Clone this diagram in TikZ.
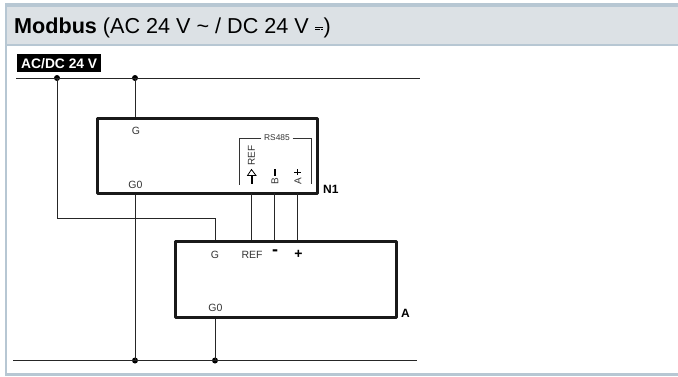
\documentclass[tikz,border=0pt]{standalone}
\usepackage{fontspec}
\setmainfont{Liberation Sans}
\usetikzlibrary{calc,positioning}
\definecolor{framecol}{HTML}{B7C7D3}
\definecolor{headcol}{HTML}{DCE1E5}
% DC symbol
\newcommand{\dcsym}{\begin{tikzpicture}[baseline=0pt,x=1pt,y=1pt]
\path (0,0) -- (8,0);
\draw[line width=0.7pt] (0,6) -- (8,6);
\draw[line width=0.7pt] (0,4) -- (2.3,4) (2.9,4) -- (5.1,4) (5.7,4) -- (8,4);
\end{tikzpicture}}
\begin{document}
\begin{tikzpicture}[x = 1pt, y = -1pt, color = {black}]
% styles
\tikzset{wire/.style={black!85,line width=0.9pt},
         joint/.style={circle,fill=black,inner sep=0pt,minimum size=6pt},
         devbox/.style={draw=black!90,line width=3pt,inner sep=0pt,line join=round},
         termlabel/.style={font=\fontsize{10.5}{10.5}\selectfont,text=black!80,inner sep=0pt},
         vertlabel/.style={font=\fontsize{10}{10}\selectfont,text=black!80,inner sep=0pt,rotate=90},
         signlabel/.style={font=\bfseries\fontsize{14}{14}\selectfont,inner sep=0pt},
         tagname/.style={font=\bfseries\fontsize{12}{12}\selectfont,inner sep=0pt}}
\useasboundingbox (0,0) rectangle (678,376);
% frame
\fill[headcol] (5,3.3) rectangle (678,46);
\fill[framecol] (5,3.3) rectangle (678,7);
\fill[framecol] (5,44) rectangle (678,46);
\fill[framecol] (5,3.3) rectangle (7,376);
\fill[framecol] (5,373) rectangle (678,376);
% title
\node (title) [anchor=base west,inner sep=0pt,font=\fontsize{21.6}{21.6}\selectfont] at (14,33.2)
  {\textbf{Modbus} (AC 24 V \textasciitilde{} / DC 24 V \dcsym)};
\node (supply) [anchor=north west,fill=black,text=white,inner sep=0pt,minimum width=84pt,minimum height=17.5pt,
  font=\bfseries\fontsize{13.8}{13.8}\selectfont] at (17,54.2) {AC/DC 24 V};
% boxes
\node (N1) [devbox,minimum width=220pt,minimum height=75pt] at (207,155.5) {};
\node (A) [devbox,minimum width=221pt,minimum height=76pt] at (285.5,279) {};
\node (labN1) [tagname,anchor=west] at (323,189) {N1};
\node (labA) [tagname,anchor=west] at (401,313) {A};
% coordinates
\coordinate (L1a) at (16,78);
\coordinate (L1b) at (420,78);
\coordinate (L2a) at (13,360.5);
\coordinate (L2b) at (417,360.5);
\coordinate (W1) at (57,218);
\coordinate (W2) at (215,218);
% joints
\node (J1) [joint] at (57,78) {};
\node (J2) [joint] at (135,78) {};
\node (J3) [joint] at (135,360.5) {};
\node (J4) [joint] at (215,360.5) {};
% rails
\draw [wire] (L1a) -- (L1b);
\draw [wire] (L2a) -- (L2b);
\draw [wire] (J2.center) -- (J2.center |- N1.north);
\draw [wire] (J3.center) -- (J3.center |- N1.south);
\draw [wire] (J4.center) -- (J4.center |- A.south);
\draw [wire] (J1.center) -- (W1) -- (W2) -- (W2 |- A.north);
% bus
\foreach \busx/\busname in {251/ref,274/minus,297/plus}{
  \coordinate (T\busname) at (\busx,193);
  \draw [wire] (T\busname) -- (T\busname |- A.north);
}
% N1 labels
\node (G1) [termlabel] at (136,131) {G};
\node (G01) [termlabel] at (135.5,185) {G0};
\node (rs) [termlabel,font=\fontsize{8.4}{8.4}\selectfont] at (277,138) {RS485};
\coordinate (B1) at (239.5,185);
\coordinate (B2) at (239.5,138);
\coordinate (B3) at (311.5,138);
\coordinate (B4) at (311.5,184);
\draw [black!80,line width=0.8pt] (rs.west) ++(-2.5,0) -- (B2) -- (B1);
\draw [black!80,line width=0.8pt] (rs.east) ++(2.5,0) -- (B3) -- (B4);
\node (refN) [vertlabel,anchor=west] at (251.5,165.5) {REF};
\draw [black,line width=0.8pt,line join=miter] (247.5,175.5) -- (251.5,169.5) -- (256,175.5) -- cycle;
\coordinate (R1) at (251.5,175.5);
\coordinate (R2) at (251.5,184);
\draw [black,line width=2pt] (R1) -- (R2);
\coordinate (M1) at (274.7,169);
\coordinate (M2) at (274.7,175.5);
\draw [black,line width=2pt] (M1) -- (M2);
\node (bN) [vertlabel] at (275,181) {B};
\coordinate (P1) at (297.7,169);
\coordinate (P2) at (297.7,175);
\draw [black,line width=0.8pt] (P1) -- (P2);
\draw [black,line width=0.8pt] ($(P1)!0.5!(P2)+(-3.3,0)$) -- ($(P1)!0.5!(P2)+(3.3,0)$);
\node (aN) [vertlabel] at (298,181) {A};
% A labels
\node (G2) [termlabel] at (215,254.5) {G};
\node (refA) [termlabel] at (252,254.5) {REF};
\node (minA) [signlabel,font=\bfseries\fontsize{18}{18}\selectfont] at (275,253) {-};
\node (plusA) [signlabel] at (298.5,254.7) {+};
\node (G02) [termlabel] at (215.5,308) {G0};
\end{tikzpicture}
\end{document}
